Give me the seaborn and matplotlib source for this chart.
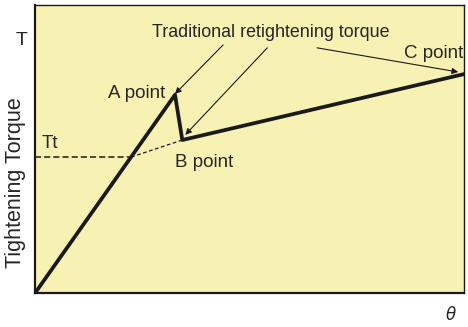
import numpy as np
import pandas as pd
import matplotlib
matplotlib.use("Agg")
import matplotlib.pyplot as plt
import seaborn as sns

# curva de apriete: origen -> A -> B -> C
curve_x = [0, 32.6, 34.3, 100]
curve_y = [0, 68.8, 53.1, 76.0]

# linea Tt discontinua y su prolongacion hasta B
tt_x = [0, 22.4, 34.3]
tt_y = [47.2, 47.2, 53.1]

point_labels = ["A point", "B point", "C point"]

sns.set_style("white")
plt.rcParams['font.family'] = ['Liberation Sans', 'DejaVu Sans']

fig = plt.figure(figsize=(4.68, 3.27), dpi=100)
ax = fig.add_axes([0.075, 0.104, 0.917, 0.881])
ax.set_facecolor("#f7f2b3")

df = pd.DataFrame({"x": curve_x, "y": curve_y})
sns.lineplot(data=df, x="x", y="y", sort=False, color="#1a1a1a", lw=2.7, ax=ax)

ax.plot(tt_x[:2], tt_y[:2], ls=(0, (4, 2)), color="#1a1a1a", lw=1.1)
ax.plot(tt_x[1:], tt_y[1:], ls=(0, (3, 2)), color="#1a1a1a", lw=0.9)

ax.set_xlim(0, 100)
ax.set_ylim(0, 100)
ax.set_xticks([])
ax.set_yticks([])
ax.set_xlabel("")
ax.set_ylabel("")
for side in ["left", "bottom"]:
    ax.spines[side].set_linewidth(1.6)
for side in ["top", "right"]:
    ax.spines[side].set_linewidth(1.0)
for s in ax.spines.values():
    s.set_color("#1a1a1a")

fs = 13.5
ax.text(23.7, 67.7, point_labels[0], fontsize=fs, ha="center", va="baseline")
ax.text(39.5, 43.8, point_labels[1], fontsize=fs, ha="center", va="baseline")
ax.text(92.8, 81.6, point_labels[2], fontsize=fs, ha="center", va="baseline")
ax.text(54.9, 88.9, "Traditional retightening torque", fontsize=12.9,
        ha="center", va="baseline")
ax.text(1.6, 50.3, "Tt", fontsize=fs, ha="left", va="baseline")

arr = dict(arrowstyle="-|>", color="#1a1a1a", lw=0.8, mutation_scale=9,
           shrinkA=0, shrinkB=0)
ax.annotate("", xy=(32.6, 69.1), xytext=(43.8, 86.1), arrowprops=arr)
ax.annotate("", xy=(35.0, 54.9), xytext=(54.1, 85.1), arrowprops=arr)
ax.annotate("", xy=(98.6, 76.7), xytext=(65.7, 85.1), arrowprops=arr)

fig.text(15.5 / 468, 1 - 183 / 327, "Tightening Torque", fontsize=15.5,
         rotation=90, ha="center", va="center")
fig.text(22 / 468, 1 - 45 / 327, "T", fontsize=14, ha="center", va="baseline")
fig.text(451 / 468, 1 - 314 / 327, r"$\theta$", fontsize=12, ha="center", va="center")

fig.savefig("out.png", dpi=100)
